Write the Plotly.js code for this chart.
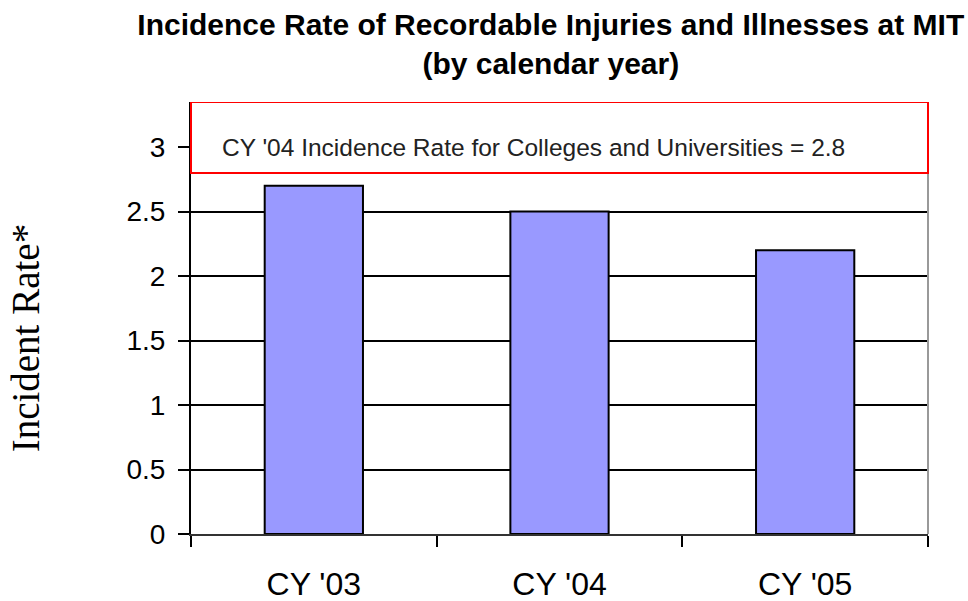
<!DOCTYPE html>
<html>
<head>
<meta charset="utf-8">
<script src="https://cdn.plot.ly/plotly-3.0.1.min.js"></script>
<style>html,body{margin:0;padding:0;background:#fff;}#chart{width:968px;height:601px;}</style>
</head>
<body>
<div id="chart"></div>
<script>
const categories = ["CY '03", "CY '04", "CY '05"];
const incidenceRates = [2.7, 2.5, 2.2];
const yTickValues = [0, 0.5, 1, 1.5, 2, 2.5, 3];
const yTickLabels = ["0", "0.5", "1", "1.5", "2", "2.5", "3"];
const benchmarkRate = 2.8;
const benchmarkText = "CY '04 Incidence Rate for Colleges and Universities = 2.8";
const yAxisTitle = "Incident Rate*";

const FONT = "'Liberation Sans', Arial, sans-serif";

const trace = {
  type: 'bar',
  x: categories,
  y: incidenceRates,
  marker: { color: '#9999FF', line: { color: '#000000', width: 2 } },
  hoverinfo: 'x+y'
};

const layout = {
  width: 968, height: 601,
  paper_bgcolor: '#ffffff', plot_bgcolor: '#ffffff',
  margin: { l: 191, r: 40, t: 102, b: 67 },
  showlegend: false,
  bargap: 0.6,
  title: {
    text: 'Incidence Rate of Recordable Injuries and Illnesses at MIT<br>(by calendar year)',
    font: { family: FONT, size: 30, color: '#000000', weight: 'bold' },
    x: 0.569, xref: 'container', xanchor: 'center',
    y: 0.942, yref: 'container', yanchor: 'top'
  },
  xaxis: {
    type: 'category',
    showgrid: false,
    showline: true, linecolor: '#333333', linewidth: 2,
    ticks: 'outside', tickson: 'boundaries', ticklen: 11, tickwidth: 2, tickcolor: '#000000',
    tickfont: { family: FONT, size: 32, color: '#000000' },
    ticklabelstandoff: 21,
    zeroline: false
  },
  yaxis: {
    range: [0, 3.35],
    tickvals: yTickValues, ticktext: yTickLabels,
    showgrid: true, gridcolor: '#000000', gridwidth: 2,
    showline: true, linecolor: '#000000', linewidth: 2,
    ticks: 'outside', ticklen: 11, tickwidth: 2, tickcolor: '#000000',
    tickfont: { family: FONT, size: 28, color: '#000000' },
    ticklabelstandoff: 7,
    zeroline: false
  },
  shapes: [
    { type: 'line', xref: 'paper', yref: 'y', x0: 1, x1: 1, y0: 0, y1: benchmarkRate,
      line: { color: '#999999', width: 2 }, layer: 'above' },
    { type: 'rect', xref: 'paper', yref: 'y', x0: 0, x1: 1, y0: benchmarkRate, y1: 3.35,
      fillcolor: '#ffffff', line: { color: '#ff0000', width: 2 }, layer: 'above' }
  ],
  annotations: [
    { xref: 'paper', yref: 'y', x: 0.039, y: 3.0, xanchor: 'left', yanchor: 'middle',
      text: benchmarkText, showarrow: false,
      font: { family: FONT, size: 24.5, color: '#222222' } },
    { xref: 'paper', yref: 'paper', x: -0.224, y: 0.455, xanchor: 'center', yanchor: 'middle',
      text: yAxisTitle, textangle: -90, showarrow: false,
      font: { family: "'Liberation Serif', 'DejaVu Serif', serif", size: 39, color: '#000000' } }
  ]
};

Plotly.newPlot('chart', [trace], layout, { displayModeBar: false, staticPlot: true });
</script>
</body>
</html>
